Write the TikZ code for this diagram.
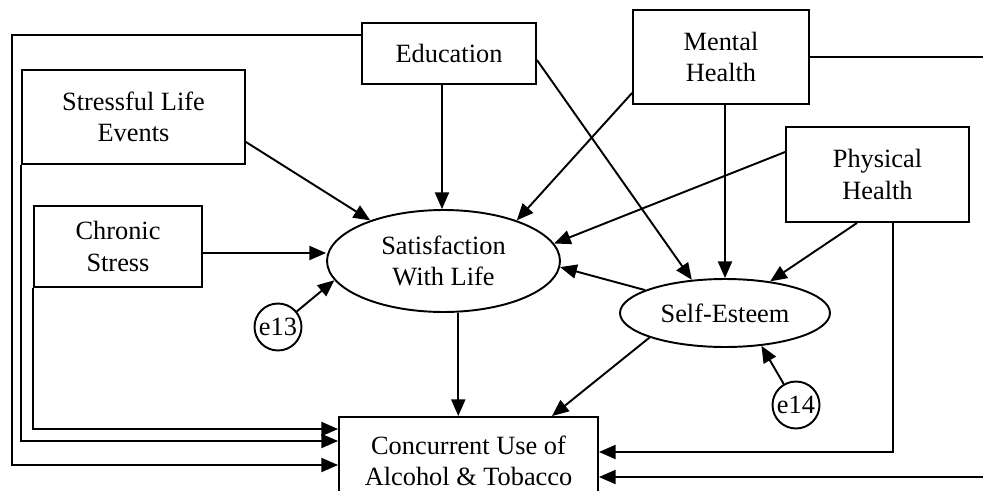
\documentclass[tikz,border=0pt]{standalone}
\usepackage{fontspec}
\setmainfont{Liberation Serif}
\usetikzlibrary{arrows.meta,shapes.geometric}

\begin{document}
\begin{tikzpicture}[x=0.02cm,y=-0.02cm,>={Triangle[length=9.5pt,width=8pt]}]
    \useasboundingbox (0,0) rectangle (983,490);
    \clip (0,0) rectangle (983,490);

        \begin{scope}[every node/.style={draw,line width=1.1pt,align=center,inner sep=0pt,font=\fontsize{15}{18}\selectfont}]
            \node[minimum width=3.48cm,minimum height=1.22cm] (edu) at (449,53.5) {Education};
            \node[minimum width=3.52cm,minimum height=1.88cm] (mh) at (721,57) {Mental\\Health};
            \node[minimum width=4.46cm,minimum height=1.88cm] (sle) at (133.5,117) {Stressful Life\\Events};
            \node[minimum width=3.36cm,minimum height=1.62cm] (cs) at (118,246.5) {Chronic\\Stress};
            \node[minimum width=3.66cm,minimum height=1.9cm] (ph) at (877.5,174.5) {Physical\\Health};
            \node[ellipse,minimum width=4.66cm,minimum height=2.04cm] (swl) at (443.5,261) {Satisfaction\\With Life};
            \node[ellipse,minimum width=4.2cm,minimum height=1.36cm] (se) at (725,313) {Self-Esteem};
            \node[circle,minimum size=0.94cm] (e13) at (278,327) {e13};
            \node[circle,minimum size=0.94cm] (e14) at (796,405) {e14};
            \node[minimum width=5.18cm,minimum height=1.76cm] (cu) at (468.5,461) {Concurrent Use of\\Alcohol \& Tobacco};
        \end{scope}

        \begin{scope}[every edge/.style={draw,line width=1.1pt}]
            \path [->] (edu.south -| 442,0) edge (swl.north -| 442,0);
            \path [->] (edu.east |- 0,60) edge (se.135);

            \path [->] (mh.west |- 0,93) edge (swl.29);
            \path [->] (mh.south -| se.north) edge (se.north);

            \path [->] (ph.west |- 0,152) edge (swl.9);
            \path [->] (ph.south -| 857,0) edge (se.35);

            \path [->] (sle.east |- 0,142) edge (swl.151);
            \path [->] (cs.east |- 0,253) edge (swl.west |- 0,253);

            \path [->] (e13) edge (swl.190);
            \path [->] (e14) edge (se.-42);

            \path [->] (se.164) edge (swl.-3);
            \path [->] (se.198) edge (cu.north -| 552,0);
            \path [->] (swl.-74) edge (swl.-74 |- cu.north);
        \end{scope}

        \begin{scope}[line width=1.1pt]
            \draw [->] (edu.west |- 0,35) -| (12,465) -- (cu.west |- 0,465);
            \draw [->] (sle.south west) |- (cu.west |- 0,441);
            \draw [->] (cs.south west) |- (cu.west |- 0,429);
            \draw [->] (ph.south -| 893,0) |- (cu.east |- 0,452);
            \draw [->] (mh.east) -| (990,477) -- (cu.east |- 0,477);
        \end{scope}

\end{tikzpicture}
\end{document}
